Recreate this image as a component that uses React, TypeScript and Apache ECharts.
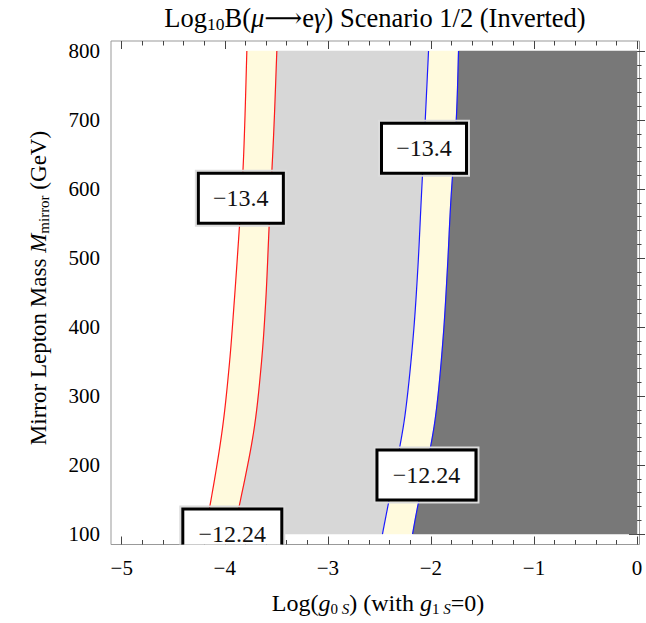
import React, { useEffect, useRef } from "react";
import * as echarts from "echarts";

// ---- data ----
// contour curves: [x = Log(g0S), y = mirror lepton mass]
const redLeft: [number, number][] = [
  [-4.21, 100], [-4.143, 142], [-4.029, 246], [-3.958, 342], [-3.907, 439],
  [-3.858, 545], [-3.825, 623], [-3.805, 700], [-3.786, 800],
];
const redRight: [number, number][] = [
  [-3.93, 100], [-3.858, 142], [-3.722, 246], [-3.648, 342], [-3.602, 439],
  [-3.57, 545], [-3.544, 623], [-3.52, 700], [-3.495, 800],
];
const blueLeft: [number, number][] = [
  [-2.47, 100], [-2.41, 146], [-2.295, 232], [-2.233, 294], [-2.169, 391],
  [-2.126, 487], [-2.094, 584], [-2.055, 700], [-2.023, 800],
];
const blueRight: [number, number][] = [
  [-2.178, 100], [-2.12, 146], [-2.0, 229], [-1.936, 294], [-1.878, 391],
  [-1.839, 487], [-1.806, 584], [-1.754, 700], [-1.732, 800],
];
const rightEdge: [number, number][] = [[0, 100], [0, 800]];

// contour labels
const labelX = [-3.844, -2.067, -3.927, -2.043];
const labelY = [586.5, 659, 100, 185.5];
const labelText = ["\u221213.4", "\u221213.4", "\u221212.24", "\u221212.24"];

// ticks
const xMajor = [-5, -4, -3, -2, -1, 0];
const xMinor = [
  -4.8, -4.6, -4.4, -4.2, -3.8, -3.6, -3.4, -3.2, -2.8, -2.6, -2.4, -2.2,
  -1.8, -1.6, -1.4, -1.2, -0.8, -0.6, -0.4, -0.2,
];
const yMajor = [100, 200, 300, 400, 500, 600, 700, 800];
const yMinor = [
  120, 140, 160, 180, 220, 240, 260, 280, 320, 340, 360, 380, 420, 440, 460,
  480, 520, 540, 560, 580, 620, 640, 660, 680, 720, 740, 760, 780,
];

const X_MIN = -5.104;
const X_MAX = 0.024;
const Y_MIN = 84.8;
const Y_MAX = 814.5;

const FONT = '"Liberation Serif", "DejaVu Serif", "Times New Roman", serif';
const YELLOW = "#fffadd";
const LIGHT = "#d7d7d7";
const DARK = "#787878";

const curves = [
  { pts: redLeft, color: "#ff1a1a" },
  { pts: redRight, color: "#ff1a1a" },
  { pts: blueLeft, color: "#1a1aff" },
  { pts: blueRight, color: "#1a1aff" },
];
const regions = [
  { left: redLeft, right: redRight, color: YELLOW },
  { left: redRight, right: blueLeft, color: LIGHT },
  { left: blueLeft, right: blueRight, color: YELLOW },
  { left: blueRight, right: rightEdge, color: DARK },
];

const minus = (v: number) => (v < 0 ? "\u2212" + Math.abs(v) : String(v));

// Catmull-Rom smoothing of pixel points (rendering only)
function smooth(pts: number[][], seg = 12): number[][] {
  if (pts.length < 3) return pts;
  const out: number[][] = [];
  const n = pts.length;
  for (let i = 0; i < n - 1; i++) {
    const p0 = pts[Math.max(i - 1, 0)];
    const p1 = pts[i];
    const p2 = pts[i + 1];
    const p3 = pts[Math.min(i + 2, n - 1)];
    for (let k = 0; k < seg; k++) {
      const t = k / seg;
      const t2 = t * t;
      const t3 = t2 * t;
      const f = (a: number, b: number, c: number, d: number) =>
        0.5 * (2 * b + (-a + c) * t + (2 * a - 5 * b + 4 * c - d) * t2 + (-a + 3 * b - 3 * c + d) * t3);
      out.push([f(p0[0], p1[0], p2[0], p3[0]), f(p0[1], p1[1], p2[1], p3[1])]);
    }
  }
  out.push(pts[n - 1]);
  return out;
}

function xAxis(pos: string, vals: number[], len: number, labels: boolean) {
  return {
    type: "value",
    position: pos,
    min: X_MIN,
    max: X_MAX,
    axisLine: { show: false },
    splitLine: { show: false },
    axisTick: {
      show: true,
      inside: true,
      length: len,
      customValues: vals,
      lineStyle: { color: "#444", width: 1 },
    },
    axisLabel: labels
      ? {
          show: true,
          customValues: vals,
          formatter: minus,
          fontFamily: FONT,
          fontSize: 21,
          color: "#000",
          margin: 13,
        }
      : { show: false },
  };
}
function yAxis(pos: string, vals: number[], len: number, labels: boolean) {
  return {
    type: "value",
    position: pos,
    min: Y_MIN,
    max: Y_MAX,
    axisLine: { show: false },
    splitLine: { show: false },
    axisTick: {
      show: true,
      inside: true,
      length: len,
      customValues: vals,
      lineStyle: { color: "#444", width: 1 },
    },
    axisLabel: labels
      ? {
          show: true,
          customValues: vals,
          fontFamily: FONT,
          fontSize: 21,
          color: "#000",
          margin: 11,
        }
      : { show: false },
  };
}

export default function App() {
  const ref = useRef<HTMLDivElement>(null);
  useEffect(() => {
    if (!ref.current) return;
    const chart = echarts.init(ref.current, null, { renderer: "svg" });
    const n = { fontFamily: FONT, fontSize: 26.5, fill: "#000", lineHeight: 30 };
    const ni = { ...n, fontStyle: "italic" };
    const s = { fontFamily: FONT, fontSize: 17.5, fill: "#000", lineHeight: 10, verticalAlign: "bottom" };

    const an = { fontFamily: FONT, fontSize: 24, fill: "#000", lineHeight: 27 };
    const ai = { ...an, fontStyle: "italic" };
    const as = { fontFamily: FONT, fontSize: 15, fill: "#000", lineHeight: 9, verticalAlign: "bottom" };
    const asi = { ...as, fontStyle: "italic" };
    const yn = { ...an, fontSize: 23, lineHeight: 26 };
    const yi = { ...yn, fontStyle: "italic" };

    const option: any = {
      animation: false,
      backgroundColor: "#fff",
      grid: {
        left: 111,
        right: 6.5,
        top: 41,
        bottom: 78.5,
        show: true,
        borderColor: "#999",
        borderWidth: 1,
        backgroundColor: "transparent",
        containLabel: false,
      },
      xAxis: [
        xAxis("bottom", xMajor, 8, true),
        xAxis("bottom", xMinor, 4.5, false),
        xAxis("top", xMajor, 8, false),
        xAxis("top", xMinor, 4.5, false),
      ],
      yAxis: [
        yAxis("left", yMajor, 8, true),
        yAxis("left", yMinor, 4.5, false),
        yAxis("right", yMajor, 8, false),
        yAxis("right", yMinor, 4.5, false),
      ],
      graphic: [
        {
          type: "text",
          x: 375,
          y: 18,
          style: {
            text: "{n|Log}{s|10}{n|B(}{i|\u03bc}{n|\u27f6e}{i|\u03b3}{n|) Scenario 1/2 (Inverted)}",
            align: "center",
            verticalAlign: "middle",
            fontSize: 26.5,
            fontFamily: FONT,
            rich: { n, i: ni, s },
          },
        },
        {
          type: "text",
          x: 38,
          y: 288,
          rotation: Math.PI / 2,
          style: {
            text: "{n|Mirror Lepton Mass }{i|M}{s|mirror}{n| (GeV)}",
            align: "center",
            verticalAlign: "middle",
            fontSize: 23,
            fontFamily: FONT,
            rich: { n: yn, i: yi, s: as },
          },
        },
        {
          type: "text",
          x: 378,
          y: 603,
          style: {
            text: "{n|Log(}{i|g}{s|0 }{si|S}{n|) (with }{i|g}{s|1 }{si|S}{n|=0)}",
            align: "center",
            verticalAlign: "middle",
            fontSize: 24,
            fontFamily: FONT,
            rich: { n: an, i: ai, s: as, si: asi },
          },
        },
      ],
      series: [
        {
          type: "custom",
          coordinateSystem: "cartesian2d",
          clip: true,
          z: 1,
          data: regions.map((_, i) => [i]),
          encode: { x: -1, y: -1 },
          renderItem: (params: any, api: any) => {
            const r = regions[params.dataIndex];
            const L = smooth(r.left.map((p) => api.coord(p)));
            const R = smooth(r.right.map((p) => api.coord(p)));
            const pts = [...L, ...R.slice().reverse()];
            return {
              type: "polygon",
              shape: { points: pts },
              style: { fill: r.color, stroke: r.color, lineWidth: 0.5 },
            };
          },
        },
        {
          type: "custom",
          coordinateSystem: "cartesian2d",
          clip: true,
          z: 2,
          data: curves.map((_, i) => [i]),
          encode: { x: -1, y: -1 },
          renderItem: (params: any, api: any) => {
            const c = curves[params.dataIndex];
            return {
              type: "polyline",
              shape: { points: smooth(c.pts.map((p) => api.coord(p))) },
              style: { fill: "none", stroke: c.color, lineWidth: 1.2 },
            };
          },
        },
        {
          type: "custom",
          coordinateSystem: "cartesian2d",
          clip: true,
          z: 5,
          data: labelX.map((x, i) => [x, labelY[i]]),
          encode: { x: 0, y: 1 },
          renderItem: (params: any, api: any) => {
            const p = api.coord([api.value(0), api.value(1)]);
            const t = labelText[params.dataIndex];
            const w = t.length * 14 + 15;
            const h = 50;
            return {
              type: "group",
              children: [
                {
                  type: "rect",
                  shape: { x: p[0] - w / 2 - 2.5, y: p[1] - h / 2 - 2.5, width: w + 5, height: h + 5 },
                  style: { fill: "none", stroke: "#dcdcdc", lineWidth: 2 },
                },
                {
                  type: "rect",
                  shape: { x: p[0] - w / 2, y: p[1] - h / 2, width: w, height: h },
                  style: { fill: "#fff", stroke: "#000", lineWidth: 3 },
                },
                {
                  type: "text",
                  style: {
                    text: t,
                    x: p[0],
                    y: p[1],
                    align: "center",
                    verticalAlign: "middle",
                    fontFamily: FONT,
                    fontSize: 24,
                    fill: "#111",
                  },
                },
              ],
            };
          },
        },
      ],
    };
    chart.setOption(option);
    return () => chart.dispose();
  }, []);
  return (
    <div
      ref={ref}
      style={{ position: "fixed", left: 0, top: 0, width: 646, height: 623, background: "#fff" }}
    />
  );
}
